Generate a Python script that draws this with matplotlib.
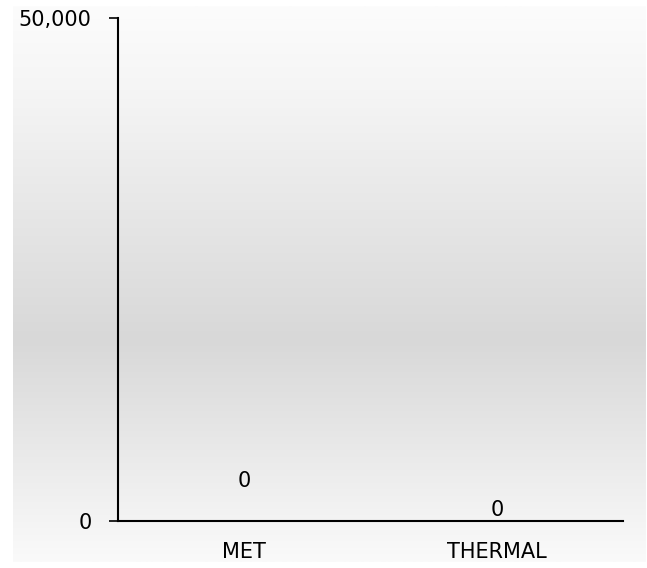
import matplotlib
matplotlib.use("Agg")
import matplotlib.pyplot as plt
import numpy as np
from matplotlib.colors import LinearSegmentedColormap

categories = ["MET", "THERMAL"]
values = [2900, 0]
value_labels = ["0", "0"]
yticks = [0, 50000]
ytick_labels = ["0", "50,000"]

W, H = 647, 568
fig = plt.figure(figsize=(W / 100, H / 100), dpi=100)
fig.patch.set_facecolor("white")

# gradient background
bg = fig.add_axes([13 / W, (H - 562) / H, 633 / W, 556 / H], zorder=0)
cmap = LinearSegmentedColormap.from_list(
    "g", [(0.0, "#fcfcfc"), (0.15, "#f5f5f5"), (0.6, "#d8d8d8"), (1.0, "#fafafa")])
grad = np.linspace(0, 1, 256).reshape(-1, 1)
bg.imshow(grad, aspect="auto", cmap=cmap, extent=[0, 1, 1, 0])
bg.set_axis_off()

ax = fig.add_axes([118 / W, (H - 521) / H, 505 / W, 503 / H], zorder=1)
ax.patch.set_alpha(0)
x = np.arange(len(categories))
bars = ax.bar(x, values, width=0.5, color="none", edgecolor="none")
ax.set_xlim(-0.5, 1.5)
ax.set_ylim(0, 50000)

font = "DejaVu Sans"
for xi, v, lab in zip(x, values, value_labels):
    ax.annotate(lab, (xi, v), xytext=(0, 11), textcoords="offset pixels",
                ha="center", va="center", fontsize=15, family=font, color="black")

ax.set_xticks(x)
ax.set_xticklabels(categories, fontsize=15, family=font)
ax.set_yticks(yticks)
ax.set_yticklabels(ytick_labels, fontsize=15, family=font)
ax.tick_params(axis="x", length=0, pad=15)
ax.tick_params(axis="y", length=6.5, width=1.2, pad=12.5)
for s in ["top", "right"]:
    ax.spines[s].set_visible(False)
for s in ["left", "bottom"]:
    ax.spines[s].set_linewidth(1.5)
    ax.spines[s].set_color("black")

fig.savefig("out.png", dpi=100)
